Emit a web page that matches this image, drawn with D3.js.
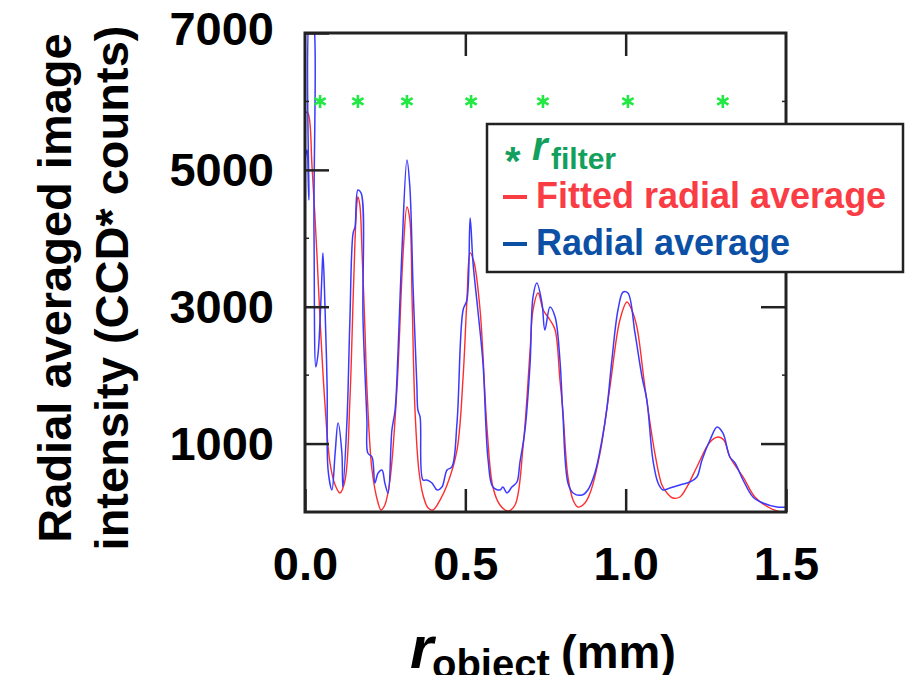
<!DOCTYPE html>
<html>
<head>
<meta charset="utf-8">
<script src="https://cdn.jsdelivr.net/npm/d3@7"></script>
<style>
  html, body { margin: 0; padding: 0; background: #fff; }
  svg { display: block; font-family: "Liberation Sans", Arial, Helvetica, sans-serif; font-weight: bold; }
</style>
</head>
<body>
<svg id="chart" width="907" height="675"></svg>
<script>
// ---------- data ----------
const xTickValues = [0.0, 0.5, 1.0, 1.5];
const xTickLabels = ["0.0", "0.5", "1.0", "1.5"];
const yTickValues = [1000, 3000, 5000, 7000];
const yTickLabels = ["1000", "3000", "5000", "7000"];
const yMinorTicks = [2000, 4000, 6000];

// r_filter positions (mm) and marker height (counts)
const rFilterX = [0.047, 0.165, 0.318, 0.518, 0.742, 1.007, 1.303];
const rFilterY = [6000, 6000, 6000, 6000, 6000, 6000, 6000];

// Radial average (measured, blue)
const radialX = [0.000,0.006,0.012,0.016,0.022,0.028,0.034,0.041,0.047,0.053,0.056,0.062,0.069,0.072,0.084,0.094,0.103,0.115,0.118,0.131,0.140,0.150,0.156,0.165,0.175,0.181,0.193,0.196,0.209,0.218,0.228,0.240,0.249,0.259,0.271,0.281,0.290,0.302,0.318,0.327,0.337,0.349,0.352,0.359,0.368,0.380,0.396,0.412,0.427,0.443,0.458,0.474,0.493,0.505,0.515,0.524,0.539,0.555,0.571,0.586,0.608,0.617,0.630,0.645,0.661,0.670,0.686,0.702,0.711,0.723,0.739,0.748,0.764,0.780,0.795,0.804,0.820,0.836,0.864,0.882,0.904,0.926,0.942,0.957,0.976,0.992,1.007,1.029,1.051,1.066,1.085,1.101,1.116,1.138,1.169,1.200,1.222,1.238,1.263,1.285,1.303,1.325,1.341,1.366,1.397,1.428,1.472,1.500];
const radialY = [5144,5290,4560,7300,7300,4121,2119,2324,2806,3493,3785,3054,1827,614,322,862,1301,862,365,1344,2806,4077,4165,4706,4662,2806,1344,862,804,424,570,614,424,278,1198,1491,2324,3785,5144,4750,3288,1827,1491,1388,468,468,424,322,365,614,658,1301,2952,3098,4297,3639,2952,2178,760,365,322,365,278,365,438,716,1198,2178,3142,3347,3054,2660,2996,2850,2221,1447,424,278,248,322,570,1052,1534,2221,2952,3215,3200,2616,1973,1637,760,424,322,351,395,438,512,760,1052,1242,1155,804,716,468,219,132,73,73];

// Fitted radial average (red)
const fitX = [0.000,0.009,0.022,0.037,0.047,0.062,0.078,0.094,0.109,0.125,0.140,0.150,0.156,0.162,0.165,0.171,0.178,0.187,0.193,0.209,0.228,0.237,0.249,0.265,0.287,0.306,0.318,0.327,0.334,0.343,0.355,0.368,0.384,0.399,0.421,0.443,0.474,0.493,0.505,0.515,0.527,0.546,0.568,0.586,0.608,0.633,0.655,0.680,0.702,0.711,0.727,0.743,0.764,0.780,0.795,0.804,0.820,0.836,0.851,0.873,0.889,0.920,0.951,0.982,1.004,1.019,1.035,1.060,1.091,1.113,1.129,1.147,1.169,1.191,1.222,1.263,1.288,1.306,1.325,1.366,1.403,1.444,1.484,1.500];
const fitY = [5846,5831,5042,3785,2806,1593,716,395,278,468,1637,3098,3975,4516,4603,4486,3785,2660,1827,614,132,29,102,468,1827,3785,4457,4267,3098,1491,614,248,58,29,175,395,906,1973,3098,3785,3653,2952,1198,365,102,15,102,950,2367,2952,3200,2952,2806,2660,1929,1491,512,175,73,132,278,862,1827,2806,3069,2952,2704,1827,862,395,278,205,219,365,658,1023,1096,1052,804,512,219,73,0,0];

const legendLabels = ["filter", "Fitted radial average", "Radial average"];

// ---------- layout ----------
const svg = d3.select("#chart");
const L = 305, R = 786, T = 33, B = 512;

const x = d3.scaleLinear().domain([0, 1.5]).range([L, R]);
const y = d3.scaleLinear().domain([0, 7000]).range([B, T]);

const axisColor = "#222";

svg.append("defs").append("clipPath").attr("id", "plotclip")
  .append("rect").attr("x", L).attr("y", T).attr("width", R - L).attr("height", B - T);

// ---------- lines ----------
const plot = svg.append("g").attr("clip-path", "url(#plotclip)");

const fitData = fitX.map((d, i) => [d, fitY[i]]);
const radData = radialX.map((d, i) => [d, radialY[i]]);

plot.append("path")
  .datum(fitData)
  .attr("fill", "none")
  .attr("stroke", "#ff2d2d")
  .attr("stroke-width", 1.4)
  .attr("d", d3.line().x(d => x(d[0])).y(d => y(d[1])).curve(d3.curveCatmullRom.alpha(0.5)));

plot.append("path")
  .datum(radData)
  .attr("fill", "none")
  .attr("stroke", "#3a3aff")
  .attr("stroke-width", 1.5)
  .attr("stroke-linejoin", "round")
  .attr("d", d3.line().x(d => x(d[0])).y(d => y(d[1])).curve(d3.curveCatmullRom.alpha(0.5)));

// r_filter markers (six-armed asterisks)
const starR = 6.5;
const starPath = [90, 30, 150].map(a => {
  const r = a * Math.PI / 180, dx = starR * Math.cos(r), dy = starR * Math.sin(r);
  return `M${-dx},${-dy}L${dx},${dy}`;
}).join("");
plot.selectAll("path.star")
  .data(rFilterX.map((d, i) => [d, rFilterY[i]]))
  .enter().append("path")
  .attr("class", "star")
  .attr("transform", d => `translate(${x(d[0])},${y(d[1])})`)
  .attr("d", starPath)
  .attr("fill", "none")
  .attr("stroke", "#22e844")
  .attr("stroke-width", 2.6);

// ---------- axes ----------
const fontSize = 47;

// left axis
const leftAxis = svg.append("g").attr("transform", `translate(${L},0)`)
  .call(d3.axisLeft(y).tickValues(yTickValues).tickFormat((d, i) => yTickLabels[i])
    .tickSizeInner(-24).tickSizeOuter(0).tickPadding(31));
leftAxis.select(".domain").remove();
leftAxis.selectAll("line").attr("stroke", axisColor).attr("stroke-width", 2.5);
leftAxis.selectAll("text").attr("font-size", fontSize).attr("font-weight", "bold")
  .attr("font-family", "'Liberation Sans', Arial, sans-serif").attr("fill", "#000")
  .attr("dy", d => d === 7000 ? "0.24em" : "0.34em");

// left minor
svg.append("g").selectAll("line").data(yMinorTicks).enter().append("line")
  .attr("x1", L).attr("x2", L + 4).attr("y1", d => y(d)).attr("y2", d => y(d))
  .attr("stroke", axisColor).attr("stroke-width", 1.5);

// right axis
const rightAxis = svg.append("g").attr("transform", `translate(${R},0)`)
  .call(d3.axisRight(y).tickValues(yTickValues.slice(0, 3)).tickFormat("")
    .tickSizeInner(-25).tickSizeOuter(0));
rightAxis.select(".domain").remove();
rightAxis.selectAll("line").attr("stroke", axisColor).attr("stroke-width", 2.5);
svg.append("g").selectAll("line").data(yMinorTicks).enter().append("line")
  .attr("x1", R - 4).attr("x2", R).attr("y1", d => y(d)).attr("y2", d => y(d))
  .attr("stroke", axisColor).attr("stroke-width", 1.5);

// bottom axis
const bottomAxis = svg.append("g").attr("transform", `translate(0,${B})`)
  .call(d3.axisBottom(x).tickValues(xTickValues).tickFormat((d, i) => xTickLabels[i])
    .tickSizeInner(-23).tickSizeOuter(0).tickPadding(35));
bottomAxis.select(".domain").remove();
bottomAxis.selectAll("line").attr("stroke", axisColor).attr("stroke-width", 2.5);
bottomAxis.selectAll("text").attr("font-size", fontSize).attr("font-weight", "bold")
  .attr("font-family", "'Liberation Sans', Arial, sans-serif").attr("fill", "#000");

// top axis
const topAxis = svg.append("g").attr("transform", `translate(0,${T})`)
  .call(d3.axisTop(x).tickValues([0.5, 1.0]).tickFormat("")
    .tickSizeInner(-23).tickSizeOuter(0));
topAxis.select(".domain").remove();
topAxis.selectAll("line").attr("stroke", axisColor).attr("stroke-width", 2.5);

// frame
svg.append("rect").attr("x", L).attr("y", T).attr("width", R - L).attr("height", B - T)
  .attr("fill", "none").attr("stroke", axisColor).attr("stroke-width", 3);

// ---------- axis titles ----------
const xt = svg.append("text").attr("y", 668).attr("fill", "#000");
xt.append("tspan").attr("x", 410).attr("font-size", 60).attr("font-style", "italic").text("r");
xt.append("tspan").attr("x", 432).attr("dy", 10).attr("font-size", 40).text("object");
xt.append("tspan").attr("x", 561).attr("dy", -10).attr("font-size", 47).text("(mm)");

svg.append("text")
  .attr("transform", "translate(71,288) rotate(-90)")
  .attr("text-anchor", "middle").attr("font-size", fontSize).attr("fill", "#000")
  .text("Radial averaged image");
svg.append("text")
  .attr("transform", "translate(128,288) rotate(-90)")
  .attr("text-anchor", "middle").attr("font-size", fontSize).attr("fill", "#000")
  .text("intensity (CCD* counts)");

// ---------- legend ----------
const lg = svg.append("g");
lg.append("rect").attr("x", 487).attr("y", 124).attr("width", 416).attr("height", 148)
  .attr("fill", "#fff").attr("stroke", axisColor).attr("stroke-width", 2.5);

const green = "#12a05c", red = "#fa3c44", blue = "#0c50a6";
lg.append("text").attr("x", 505).attr("y", 175).attr("font-size", 40).attr("fill", green).text("*");
const lt = lg.append("text").attr("fill", green);
lt.append("tspan").attr("x", 532).attr("y", 160).attr("font-size", 40).attr("font-style", "italic").text("r");
lt.append("tspan").attr("x", 551).attr("y", 169).attr("font-size", 30).text(legendLabels[0]);

lg.append("line").attr("x1", 503).attr("x2", 527).attr("y1", 197).attr("y2", 197)
  .attr("stroke", red).attr("stroke-width", 4);
lg.append("text").attr("x", 536).attr("y", 208).attr("font-size", 36).attr("fill", red).text(legendLabels[1]);

lg.append("line").attr("x1", 503).attr("x2", 527).attr("y1", 244).attr("y2", 244)
  .attr("stroke", blue).attr("stroke-width", 4);
lg.append("text").attr("x", 536).attr("y", 255).attr("font-size", 36).attr("fill", blue).text(legendLabels[2]);
</script>
</body>
</html>
